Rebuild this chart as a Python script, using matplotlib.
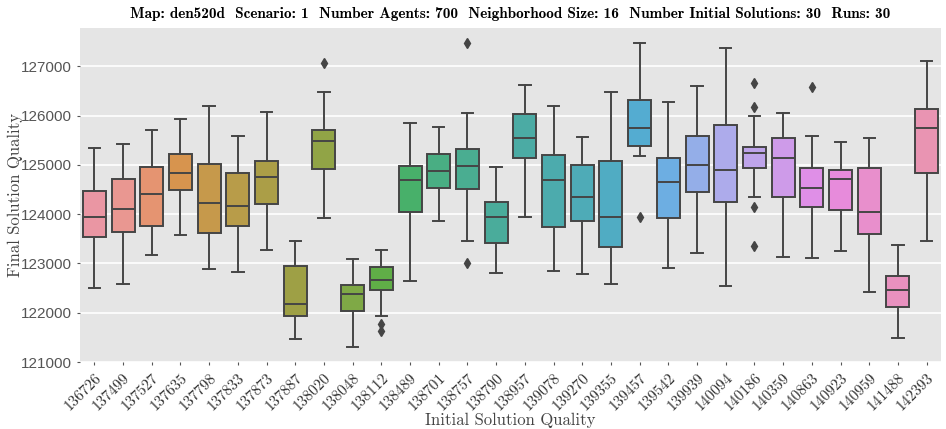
import colorsys

import matplotlib
matplotlib.use("Agg")
import matplotlib.pyplot as plt
from matplotlib import font_manager
import seaborn as sns

# ---- data: final solution quality per initial solution (box statistics) ----
initial_quality = [
    "136726", "137499", "137527", "137635", "137798", "137833", "137873", "137887",
    "138020", "138048", "138112", "138489", "138701", "138757", "138790", "138957",
    "139078", "139270", "139355", "139457", "139542", "139939", "140094", "140186",
    "140359", "140863", "140923", "140959", "141488", "142393",
]
whisker_high = [
    125349, 125424, 125715, 125924, 126195, 125593, 126066, 123462,
    126486, 123097, 123279, 125843, 125775, 126053, 124957, 126621,
    126188, 125559, 126486, 127473, 126283, 126607, 127372, 125985,
    126046, 125586, 125464, 125539, 123374, 127115,
]
q3 = [
    124470, 124720, 124964, 125228, 125011, 124842, 125079, 122941,
    125701, 122562, 122928, 124970, 125228, 125322, 124240, 126039,
    125207, 124997, 125085, 126317, 125140, 125593, 125816, 125370,
    125545, 124943, 124903, 124943, 122738, 126134,
]
medians = [
    123949, 124111, 124402, 124842, 124220, 124166, 124761, 122177,
    125478, 122380, 122657, 124700, 124869, 124984, 123942, 125552,
    124693, 124341, 123936, 125742, 124659, 124997, 124889, 125248,
    125146, 124531, 124720, 124044, 122454, 125742,
]
q1 = [
    123543, 123638, 123753, 124497, 123611, 123767, 124199, 121940,
    124923, 122028, 122468, 124037, 124538, 124517, 123415, 125133,
    123746, 123868, 123340, 125390, 123929, 124450, 124253, 124937,
    124355, 124145, 124084, 123597, 122123, 124835,
]
whisker_low = [
    122508, 122576, 123171, 123584, 122894, 122833, 123266, 121473,
    123929, 121298, 121933, 122650, 123868, 123462, 122806, 123949,
    122840, 122786, 122590, 125173, 122901, 123205, 122535, 124341,
    123137, 123117, 123252, 122414, 121480, 123462,
]
outliers = [
    [], [], [], [], [], [], [], [],
    [127067], [], [121771, 121636], [], [], [127466, 123002], [], [],
    [], [], [], [123949], [], [], [], [126661, 126174, 124152, 123361],
    [], [126574], [], [], [], [],
]

title_text = ("Map: den520d  Scenario: 1  Number Agents: 700  Neighborhood Size: 16  "
              "Number Initial Solutions: 30  Runs: 30")


def first_font(candidates):
    names = {f.name for f in font_manager.fontManager.ttflist}
    for name in candidates:
        if name in names:
            return name
    return "DejaVu Sans"


plt.style.use("ggplot")
serif = "cmr10"
serif_bold = "cmb10"
tick_sans = first_font(["Liberation Sans Narrow", "DejaVu Sans Condensed", "Liberation Sans"])

# husl palette, desaturated the way seaborn does for box patches
palette = sns.color_palette(sns.husl_palette(len(initial_quality), l=.7), desat=.75)
lum = min(colorsys.rgb_to_hls(*c)[1] for c in palette) * .6
line_gray = (lum, lum, lum)

fig = plt.figure(figsize=(9.46, 4.29), dpi=100)
ax = fig.add_axes([80 / 946, 1 - 362 / 429, (941 - 80) / 946, (362 - 28) / 429])
ax.set_facecolor("#E5E5E5")

stats = []
for i in range(len(initial_quality)):
    stats.append(dict(med=medians[i], q1=q1[i], q3=q3[i],
                      whislo=whisker_low[i], whishi=whisker_high[i],
                      fliers=outliers[i], label=initial_quality[i]))

lw = 1.4
art = ax.bxp(
    stats, positions=list(range(len(stats))), widths=0.8, patch_artist=True,
    showfliers=True,
    boxprops=dict(edgecolor=line_gray, linewidth=lw),
    whiskerprops=dict(color=line_gray, linewidth=lw),
    capprops=dict(color=line_gray, linewidth=lw),
    medianprops=dict(color=line_gray, linewidth=lw),
    flierprops=dict(marker="d", markersize=5, markerfacecolor=line_gray,
                    markeredgecolor=line_gray, linestyle="none"),
)
for patch, col in zip(art["boxes"], palette):
    patch.set_facecolor(col)

ax.set_xlim(-0.5, len(stats) - 0.5)
ax.set_ylim(121000, 127780)
ax.set_yticks(range(121000, 128000, 1000))
ax.set_yticklabels([str(v) for v in range(121000, 128000, 1000)],
                   fontfamily=tick_sans, fontsize=11, color="#555555")
ax.set_xticks(range(len(stats)))
ax.set_xticklabels(initial_quality, rotation=45, ha="right", rotation_mode="anchor",
                   fontfamily=serif, fontsize=11, color="#333333")
ax.grid(axis="x", visible=False)
ax.grid(axis="y", color="white", linewidth=1.2)
ax.tick_params(axis="both", length=2.5, color="#555555")
ax.tick_params(axis="x", pad=4)
for s in ax.spines.values():
    s.set_visible(False)

ax.set_xlabel("Initial Solution Quality", fontfamily=serif, fontsize=12, color="#444444")
ax.xaxis.set_label_coords(0.5, -0.152)
ax.set_ylabel("Final Solution Quality", fontfamily=serif, fontsize=12, color="#444444")
ax.yaxis.set_label_coords(-0.066, 0.5)
ax.set_title(title_text, fontfamily=serif_bold, fontsize=11, color="black", pad=7)

fig.savefig("out.png", dpi=100)
